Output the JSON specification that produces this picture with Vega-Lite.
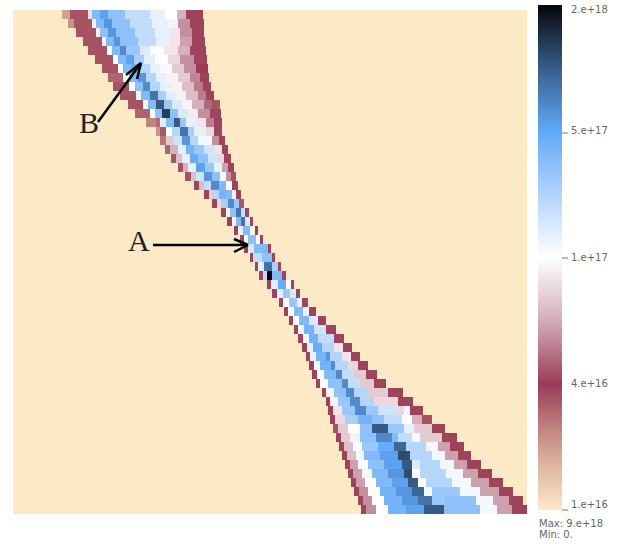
{"$schema":"https://vega.github.io/schema/vega-lite/v6.json","width":514,"height":504,"autosize":{"type":"none"},"padding":{"left":13,"top":10,"right":98,"bottom":30},"background":"white","config":{"view":{"fill":"#fce9c6","stroke":null}},"resolve":{"scale":{"y":"independent"}},"layer":[{"data":{"values":[
{"y":10,"a":62,"b":70,"v":12},{"y":10,"a":70,"b":88,"v":22},{"y":10,"a":88,"b":92,"v":45},{"y":10,"a":92,"b":100,"v":70},{"y":10,"a":100,"b":108,"v":76},{"y":10,"a":108,"b":125,"v":68},{"y":10,"a":125,"b":150,"v":60},{"y":10,"a":150,"b":165,"v":54},{"y":10,"a":165,"b":177,"v":50},{"y":10,"a":177,"b":186,"v":38},{"y":10,"a":186,"b":203,"v":24},
{"y":19,"a":68,"b":74,"v":14},{"y":19,"a":74,"b":92,"v":22},{"y":19,"a":92,"b":96,"v":48},{"y":19,"a":96,"b":104,"v":70},{"y":19,"a":104,"b":112,"v":78},{"y":19,"a":112,"b":130,"v":68},{"y":19,"a":130,"b":152,"v":60},{"y":19,"a":152,"b":168,"v":54},{"y":19,"a":168,"b":178,"v":48},{"y":19,"a":178,"b":190,"v":34},{"y":19,"a":190,"b":204,"v":24},
{"y":28,"a":76,"b":96,"v":22},{"y":28,"a":96,"b":100,"v":48},{"y":28,"a":100,"b":108,"v":68},{"y":28,"a":108,"b":116,"v":78},{"y":28,"a":116,"b":135,"v":68},{"y":28,"a":135,"b":155,"v":60},{"y":28,"a":155,"b":170,"v":54},{"y":28,"a":170,"b":180,"v":46},{"y":28,"a":180,"b":192,"v":34},{"y":28,"a":192,"b":204,"v":24},
{"y":37,"a":83,"b":102,"v":22},{"y":37,"a":102,"b":106,"v":48},{"y":37,"a":106,"b":114,"v":70},{"y":37,"a":114,"b":120,"v":78},{"y":37,"a":120,"b":138,"v":68},{"y":37,"a":138,"b":156,"v":60},{"y":37,"a":156,"b":170,"v":54},{"y":37,"a":170,"b":180,"v":46},{"y":37,"a":180,"b":192,"v":36},{"y":37,"a":192,"b":205,"v":24},
{"y":46,"a":88,"b":107,"v":22},{"y":46,"a":107,"b":112,"v":50},{"y":46,"a":112,"b":120,"v":70},{"y":46,"a":120,"b":126,"v":80},{"y":46,"a":126,"b":140,"v":66},{"y":46,"a":140,"b":150,"v":56},{"y":46,"a":150,"b":164,"v":51},{"y":46,"a":164,"b":178,"v":46},{"y":46,"a":178,"b":190,"v":38},{"y":46,"a":190,"b":206,"v":26},
{"y":55,"a":95,"b":113,"v":22},{"y":55,"a":113,"b":118,"v":50},{"y":55,"a":118,"b":126,"v":70},{"y":55,"a":126,"b":134,"v":76},{"y":55,"a":134,"b":144,"v":64},{"y":55,"a":144,"b":155,"v":55},{"y":55,"a":155,"b":168,"v":50},{"y":55,"a":168,"b":180,"v":44},{"y":55,"a":180,"b":194,"v":34},{"y":55,"a":194,"b":207,"v":26},
{"y":64,"a":102,"b":118,"v":22},{"y":64,"a":118,"b":123,"v":50},{"y":64,"a":123,"b":131,"v":70},{"y":64,"a":131,"b":140,"v":74},{"y":64,"a":140,"b":150,"v":62},{"y":64,"a":150,"b":160,"v":54},{"y":64,"a":160,"b":172,"v":49},{"y":64,"a":172,"b":184,"v":42},{"y":64,"a":184,"b":196,"v":34},{"y":64,"a":196,"b":208,"v":25},
{"y":73,"a":108,"b":123,"v":20},{"y":73,"a":123,"b":129,"v":50},{"y":73,"a":129,"b":138,"v":70},{"y":73,"a":138,"b":146,"v":78},{"y":73,"a":146,"b":156,"v":62},{"y":73,"a":156,"b":166,"v":54},{"y":73,"a":166,"b":178,"v":48},{"y":73,"a":178,"b":190,"v":42},{"y":73,"a":190,"b":200,"v":33},{"y":73,"a":200,"b":209,"v":24},
{"y":82,"a":113,"b":129,"v":22},{"y":82,"a":129,"b":135,"v":50},{"y":82,"a":135,"b":143,"v":68},{"y":82,"a":143,"b":150,"v":80},{"y":82,"a":150,"b":160,"v":62},{"y":82,"a":160,"b":170,"v":54},{"y":82,"a":170,"b":182,"v":48},{"y":82,"a":182,"b":194,"v":40},{"y":82,"a":194,"b":203,"v":32},{"y":82,"a":203,"b":211,"v":24},
{"y":91,"a":120,"b":136,"v":22},{"y":91,"a":136,"b":141,"v":52},{"y":91,"a":141,"b":150,"v":70},{"y":91,"a":150,"b":158,"v":84},{"y":91,"a":158,"b":166,"v":64},{"y":91,"a":166,"b":176,"v":55},{"y":91,"a":176,"b":186,"v":48},{"y":91,"a":186,"b":198,"v":40},{"y":91,"a":198,"b":206,"v":32},{"y":91,"a":206,"b":214,"v":24},
{"y":100,"a":128,"b":143,"v":22},{"y":100,"a":143,"b":148,"v":52},{"y":100,"a":148,"b":156,"v":70},{"y":100,"a":156,"b":164,"v":88},{"y":100,"a":164,"b":172,"v":66},{"y":100,"a":172,"b":182,"v":56},{"y":100,"a":182,"b":192,"v":48},{"y":100,"a":192,"b":204,"v":38},{"y":100,"a":204,"b":212,"v":30},{"y":100,"a":212,"b":220,"v":22},
{"y":109,"a":135,"b":150,"v":20},{"y":109,"a":150,"b":155,"v":50},{"y":109,"a":155,"b":162,"v":68},{"y":109,"a":162,"b":170,"v":92},{"y":109,"a":170,"b":178,"v":68},{"y":109,"a":178,"b":188,"v":56},{"y":109,"a":188,"b":198,"v":47},{"y":109,"a":198,"b":210,"v":34},{"y":109,"a":210,"b":221,"v":26},
{"y":118,"a":146,"b":156,"v":16},{"y":118,"a":156,"b":160,"v":30},{"y":118,"a":160,"b":166,"v":55},{"y":118,"a":166,"b":174,"v":70},{"y":118,"a":174,"b":180,"v":88},{"y":118,"a":180,"b":186,"v":66},{"y":118,"a":186,"b":196,"v":54},{"y":118,"a":196,"b":206,"v":46},{"y":118,"a":206,"b":214,"v":32},{"y":118,"a":214,"b":222,"v":24},
{"y":127,"a":156,"b":160,"v":14},{"y":127,"a":160,"b":166,"v":28},{"y":127,"a":166,"b":172,"v":50},{"y":127,"a":172,"b":180,"v":62},{"y":127,"a":180,"b":188,"v":84},{"y":127,"a":188,"b":194,"v":64},{"y":127,"a":194,"b":206,"v":54},{"y":127,"a":206,"b":214,"v":44},{"y":127,"a":214,"b":222,"v":26},
{"y":136,"a":160,"b":166,"v":18},{"y":136,"a":166,"b":174,"v":42},{"y":136,"a":174,"b":182,"v":58},{"y":136,"a":182,"b":190,"v":78},{"y":136,"a":190,"b":198,"v":62},{"y":136,"a":198,"b":212,"v":52},{"y":136,"a":212,"b":219,"v":34},{"y":136,"a":219,"b":225,"v":24},
{"y":145,"a":165,"b":170,"v":20},{"y":145,"a":170,"b":178,"v":38},{"y":145,"a":178,"b":186,"v":55},{"y":145,"a":186,"b":194,"v":72},{"y":145,"a":194,"b":204,"v":66},{"y":145,"a":204,"b":214,"v":58},{"y":145,"a":214,"b":222,"v":46},{"y":145,"a":222,"b":228,"v":24},
{"y":154,"a":171,"b":176,"v":22},{"y":154,"a":176,"b":182,"v":40},{"y":154,"a":182,"b":190,"v":54},{"y":154,"a":190,"b":198,"v":74},{"y":154,"a":198,"b":208,"v":68},{"y":154,"a":208,"b":218,"v":58},{"y":154,"a":218,"b":224,"v":44},{"y":154,"a":224,"b":231,"v":24},
{"y":163,"a":178,"b":183,"v":22},{"y":163,"a":183,"b":188,"v":38},{"y":163,"a":188,"b":196,"v":54},{"y":163,"a":196,"b":205,"v":76},{"y":163,"a":205,"b":214,"v":66},{"y":163,"a":214,"b":222,"v":54},{"y":163,"a":222,"b":228,"v":36},{"y":163,"a":228,"b":234,"v":24},
{"y":172,"a":185,"b":191,"v":22},{"y":172,"a":191,"b":196,"v":40},{"y":172,"a":196,"b":204,"v":58},{"y":172,"a":204,"b":212,"v":78},{"y":172,"a":212,"b":220,"v":68},{"y":172,"a":220,"b":226,"v":52},{"y":172,"a":226,"b":231,"v":34},{"y":172,"a":231,"b":236,"v":22},
{"y":181,"a":194,"b":199,"v":24},{"y":181,"a":199,"b":204,"v":40},{"y":181,"a":204,"b":211,"v":60},{"y":181,"a":211,"b":219,"v":80},{"y":181,"a":219,"b":226,"v":70},{"y":181,"a":226,"b":232,"v":50},{"y":181,"a":232,"b":238,"v":24},
{"y":190,"a":204,"b":209,"v":24},{"y":190,"a":209,"b":213,"v":42},{"y":190,"a":213,"b":219,"v":62},{"y":190,"a":219,"b":226,"v":72},{"y":190,"a":226,"b":232,"v":70},{"y":190,"a":232,"b":236,"v":48},{"y":190,"a":236,"b":241,"v":24},
{"y":199,"a":212,"b":217,"v":24},{"y":199,"a":217,"b":221,"v":44},{"y":199,"a":221,"b":228,"v":64},{"y":199,"a":228,"b":234,"v":80},{"y":199,"a":234,"b":239,"v":66},{"y":199,"a":239,"b":244,"v":28},
{"y":208,"a":221,"b":226,"v":24},{"y":208,"a":226,"b":230,"v":48},{"y":208,"a":230,"b":236,"v":68},{"y":208,"a":236,"b":241,"v":84},{"y":208,"a":241,"b":245,"v":60},{"y":208,"a":245,"b":249,"v":26},
{"y":217,"a":227,"b":232,"v":24},{"y":217,"a":232,"b":236,"v":52},{"y":217,"a":236,"b":241,"v":70},{"y":217,"a":241,"b":245,"v":84},{"y":217,"a":245,"b":250,"v":56},{"y":217,"a":250,"b":253,"v":26},
{"y":226,"a":234,"b":238,"v":24},{"y":226,"a":238,"b":243,"v":54},{"y":226,"a":243,"b":250,"v":70},{"y":226,"a":250,"b":255,"v":48},{"y":226,"a":255,"b":258,"v":24},
{"y":235,"a":240,"b":244,"v":24},{"y":235,"a":244,"b":248,"v":50},{"y":235,"a":248,"b":256,"v":68},{"y":235,"a":256,"b":260,"v":50},{"y":235,"a":260,"b":263,"v":24},
{"y":244,"a":244,"b":248,"v":24},{"y":244,"a":248,"b":254,"v":56},{"y":244,"a":254,"b":268,"v":70},{"y":244,"a":268,"b":271,"v":24},
{"y":253,"a":250,"b":253,"v":24},{"y":253,"a":253,"b":262,"v":60},{"y":253,"a":262,"b":272,"v":68},{"y":253,"a":272,"b":275,"v":26},
{"y":262,"a":255,"b":258,"v":26},{"y":262,"a":258,"b":264,"v":55},{"y":262,"a":264,"b":272,"v":84},{"y":262,"a":272,"b":278,"v":64},{"y":262,"a":278,"b":281,"v":26},
{"y":271,"a":259,"b":263,"v":26},{"y":271,"a":263,"b":267,"v":60},{"y":271,"a":267,"b":272,"v":100},{"y":271,"a":272,"b":282,"v":70},{"y":271,"a":282,"b":286,"v":26},
{"y":280,"a":267,"b":271,"v":26},{"y":280,"a":271,"b":278,"v":55},{"y":280,"a":278,"b":286,"v":74},{"y":280,"a":286,"b":291,"v":50},{"y":280,"a":291,"b":294,"v":24},
{"y":289,"a":272,"b":277,"v":26},{"y":289,"a":277,"b":283,"v":55},{"y":289,"a":283,"b":290,"v":66},{"y":289,"a":290,"b":296,"v":56},{"y":289,"a":296,"b":300,"v":26},
{"y":298,"a":279,"b":283,"v":24},{"y":298,"a":283,"b":289,"v":50},{"y":298,"a":289,"b":297,"v":66},{"y":298,"a":297,"b":302,"v":54},{"y":298,"a":302,"b":308,"v":26},
{"y":307,"a":284,"b":288,"v":24},{"y":307,"a":288,"b":294,"v":50},{"y":307,"a":294,"b":303,"v":70},{"y":307,"a":303,"b":309,"v":54},{"y":307,"a":309,"b":316,"v":26},
{"y":316,"a":289,"b":293,"v":24},{"y":316,"a":293,"b":299,"v":50},{"y":316,"a":299,"b":309,"v":70},{"y":316,"a":309,"b":318,"v":56},{"y":316,"a":318,"b":326,"v":26},
{"y":325,"a":294,"b":298,"v":24},{"y":325,"a":298,"b":304,"v":52},{"y":325,"a":304,"b":314,"v":72},{"y":325,"a":314,"b":326,"v":58},{"y":325,"a":326,"b":336,"v":26},
{"y":334,"a":298,"b":303,"v":24},{"y":334,"a":303,"b":309,"v":52},{"y":334,"a":309,"b":318,"v":72},{"y":334,"a":318,"b":334,"v":60},{"y":334,"a":334,"b":344,"v":26},
{"y":343,"a":302,"b":307,"v":24},{"y":343,"a":307,"b":313,"v":54},{"y":343,"a":313,"b":322,"v":74},{"y":343,"a":322,"b":334,"v":62},{"y":343,"a":334,"b":343,"v":46},{"y":343,"a":343,"b":352,"v":26},
{"y":352,"a":306,"b":310,"v":24},{"y":352,"a":310,"b":316,"v":54},{"y":352,"a":316,"b":326,"v":72},{"y":352,"a":326,"b":330,"v":78},{"y":352,"a":330,"b":342,"v":62},{"y":352,"a":342,"b":351,"v":46},{"y":352,"a":351,"b":360,"v":24},
{"y":361,"a":309,"b":314,"v":24},{"y":361,"a":314,"b":320,"v":52},{"y":361,"a":320,"b":331,"v":72},{"y":361,"a":331,"b":335,"v":80},{"y":361,"a":335,"b":348,"v":62},{"y":361,"a":348,"b":358,"v":44},{"y":361,"a":358,"b":368,"v":24},
{"y":370,"a":312,"b":317,"v":24},{"y":370,"a":317,"b":324,"v":50},{"y":370,"a":324,"b":336,"v":70},{"y":370,"a":336,"b":342,"v":80},{"y":370,"a":342,"b":354,"v":60},{"y":370,"a":354,"b":366,"v":42},{"y":370,"a":366,"b":377,"v":24},
{"y":379,"a":316,"b":320,"v":24},{"y":379,"a":320,"b":328,"v":50},{"y":379,"a":328,"b":342,"v":68},{"y":379,"a":342,"b":348,"v":80},{"y":379,"a":348,"b":360,"v":60},{"y":379,"a":360,"b":374,"v":42},{"y":379,"a":374,"b":386,"v":24},
{"y":388,"a":322,"b":326,"v":24},{"y":388,"a":326,"b":334,"v":48},{"y":388,"a":334,"b":346,"v":68},{"y":388,"a":346,"b":354,"v":80},{"y":388,"a":354,"b":368,"v":62},{"y":388,"a":368,"b":388,"v":42},{"y":388,"a":388,"b":403,"v":24},
{"y":397,"a":326,"b":330,"v":24},{"y":397,"a":330,"b":338,"v":48},{"y":397,"a":338,"b":350,"v":66},{"y":397,"a":350,"b":360,"v":80},{"y":397,"a":360,"b":374,"v":62},{"y":397,"a":374,"b":398,"v":44},{"y":397,"a":398,"b":413,"v":24},
{"y":406,"a":328,"b":333,"v":24},{"y":406,"a":333,"b":342,"v":46},{"y":406,"a":342,"b":355,"v":66},{"y":406,"a":355,"b":366,"v":80},{"y":406,"a":366,"b":378,"v":66},{"y":406,"a":378,"b":398,"v":58},{"y":406,"a":398,"b":404,"v":44},{"y":406,"a":404,"b":410,"v":52},{"y":406,"a":410,"b":423,"v":24},
{"y":415,"a":330,"b":335,"v":24},{"y":415,"a":335,"b":345,"v":44},{"y":415,"a":345,"b":358,"v":64},{"y":415,"a":358,"b":372,"v":72},{"y":415,"a":372,"b":384,"v":68},{"y":415,"a":384,"b":402,"v":60},{"y":415,"a":402,"b":412,"v":50},{"y":415,"a":412,"b":422,"v":38},{"y":415,"a":422,"b":432,"v":22},
{"y":424,"a":333,"b":338,"v":22},{"y":424,"a":338,"b":348,"v":42},{"y":424,"a":348,"b":360,"v":50},{"y":424,"a":360,"b":372,"v":68},{"y":424,"a":372,"b":388,"v":88},{"y":424,"a":388,"b":404,"v":66},{"y":424,"a":404,"b":414,"v":54},{"y":424,"a":414,"b":432,"v":42},{"y":424,"a":432,"b":445,"v":24},
{"y":433,"a":336,"b":341,"v":24},{"y":433,"a":341,"b":350,"v":42},{"y":433,"a":350,"b":360,"v":48},{"y":433,"a":360,"b":376,"v":68},{"y":433,"a":376,"b":392,"v":80},{"y":433,"a":392,"b":398,"v":70},{"y":433,"a":398,"b":412,"v":60},{"y":433,"a":412,"b":420,"v":52},{"y":433,"a":420,"b":442,"v":42},{"y":433,"a":442,"b":457,"v":24},
{"y":442,"a":339,"b":344,"v":24},{"y":442,"a":344,"b":353,"v":40},{"y":442,"a":353,"b":362,"v":50},{"y":442,"a":362,"b":378,"v":66},{"y":442,"a":378,"b":394,"v":74},{"y":442,"a":394,"b":406,"v":86},{"y":442,"a":406,"b":426,"v":62},{"y":442,"a":426,"b":438,"v":52},{"y":442,"a":438,"b":450,"v":36},{"y":442,"a":450,"b":464,"v":24},
{"y":451,"a":342,"b":347,"v":24},{"y":451,"a":347,"b":356,"v":40},{"y":451,"a":356,"b":364,"v":52},{"y":451,"a":364,"b":380,"v":70},{"y":451,"a":380,"b":398,"v":76},{"y":451,"a":398,"b":410,"v":90},{"y":451,"a":410,"b":432,"v":62},{"y":451,"a":432,"b":445,"v":52},{"y":451,"a":445,"b":458,"v":36},{"y":451,"a":458,"b":471,"v":24},
{"y":460,"a":345,"b":350,"v":24},{"y":460,"a":350,"b":358,"v":36},{"y":460,"a":358,"b":368,"v":50},{"y":460,"a":368,"b":384,"v":68},{"y":460,"a":384,"b":402,"v":76},{"y":460,"a":402,"b":412,"v":88},{"y":460,"a":412,"b":420,"v":56},{"y":460,"a":420,"b":440,"v":62},{"y":460,"a":440,"b":454,"v":52},{"y":460,"a":454,"b":467,"v":36},{"y":460,"a":467,"b":481,"v":24},
{"y":469,"a":348,"b":353,"v":24},{"y":469,"a":353,"b":362,"v":36},{"y":469,"a":362,"b":372,"v":52},{"y":469,"a":372,"b":388,"v":70},{"y":469,"a":388,"b":404,"v":78},{"y":469,"a":404,"b":412,"v":90},{"y":469,"a":412,"b":420,"v":50},{"y":469,"a":420,"b":446,"v":62},{"y":469,"a":446,"b":463,"v":52},{"y":469,"a":463,"b":478,"v":36},{"y":469,"a":478,"b":492,"v":24},
{"y":478,"a":351,"b":356,"v":24},{"y":478,"a":356,"b":365,"v":36},{"y":478,"a":365,"b":376,"v":50},{"y":478,"a":376,"b":392,"v":70},{"y":478,"a":392,"b":408,"v":76},{"y":478,"a":408,"b":418,"v":88},{"y":478,"a":418,"b":426,"v":50},{"y":478,"a":426,"b":452,"v":62},{"y":478,"a":452,"b":471,"v":52},{"y":478,"a":471,"b":489,"v":36},{"y":478,"a":489,"b":503,"v":24},
{"y":487,"a":354,"b":359,"v":24},{"y":487,"a":359,"b":368,"v":34},{"y":487,"a":368,"b":380,"v":50},{"y":487,"a":380,"b":396,"v":72},{"y":487,"a":396,"b":412,"v":78},{"y":487,"a":412,"b":424,"v":86},{"y":487,"a":424,"b":432,"v":52},{"y":487,"a":432,"b":460,"v":66},{"y":487,"a":460,"b":480,"v":52},{"y":487,"a":480,"b":499,"v":36},{"y":487,"a":499,"b":513,"v":24},
{"y":496,"a":358,"b":363,"v":24},{"y":496,"a":363,"b":372,"v":34},{"y":496,"a":372,"b":384,"v":50},{"y":496,"a":384,"b":402,"v":72},{"y":496,"a":402,"b":418,"v":78},{"y":496,"a":418,"b":432,"v":84},{"y":496,"a":432,"b":445,"v":66},{"y":496,"a":445,"b":476,"v":68},{"y":496,"a":476,"b":493,"v":52},{"y":496,"a":493,"b":509,"v":36},{"y":496,"a":509,"b":523,"v":24},
{"y":505,"a":361,"b":366,"v":24},{"y":505,"a":366,"b":376,"v":34},{"y":505,"a":376,"b":388,"v":50},{"y":505,"a":388,"b":406,"v":72},{"y":505,"a":406,"b":424,"v":76},{"y":505,"a":424,"b":444,"v":88},{"y":505,"a":444,"b":480,"v":68},{"y":505,"a":480,"b":497,"v":52},{"y":505,"a":497,"b":512,"v":36},{"y":505,"a":512,"b":527,"v":24}
]},"mark":{"type":"rect"},"encoding":{"x":{"field":"a","type":"quantitative","axis":null,"scale":{"domain":[13,527],"nice":false,"zero":false}},"x2":{"field":"b"},"y":{"field":"y","type":"ordinal","axis":null,"scale":{"paddingInner":0,"paddingOuter":0}},"color":{"field":"v","type":"quantitative","scale":{"interpolate":"rgb","domain":[0,12.5,25,37.5,50,61,75,87,100],"range":["#fce9c6","#cfa08f","#9b3b57","#d3aeb9","#ffffff","#bcd9fb","#60a8f8","#3a618e","#04060a"]},"legend":{"title":null,"type":"gradient","orient":"none","legendX":525,"legendY":-5,"gradientLength":505,"gradientThickness":24,"gradientStrokeWidth":0,"values":[0,25,50,75,100],"labelExpr":"datum.value==100?'2.e+18':datum.value==75?'5.e+17':datum.value==50?'1.e+17':datum.value==25?'4.e+16':'1.e+16'","labelFont":"DejaVu Sans","labelFontSize":10,"labelColor":"#666666","labelOffset":9,"labelOverlap":false}}}},{"data":{"values":[
{"x":153,"x2":248,"y":245,"y2":245},{"x":248,"x2":234,"y":245,"y2":239},{"x":248,"x2":234,"y":245,"y2":252},{"x":98,"x2":141,"y":122,"y2":63},{"x":141,"x2":126,"y":63,"y2":75},{"x":141,"x2":137,"y":63,"y2":79},{"x":562,"x2":568,"y":133,"y2":133,"k":1},{"x":562,"x2":568,"y":258,"y2":258,"k":1},{"x":562,"x2":568,"y":510,"y2":510,"k":1}
]},"mark":{"type":"rule","clip":false},"encoding":{"x":{"field":"x","type":"quantitative","axis":null},"x2":{"field":"x2"},"y":{"field":"y","type":"quantitative","axis":null,"scale":{"domain":[514,10],"nice":false,"zero":false}},"y2":{"field":"y2"},"stroke":{"condition":{"test":"datum.k==1","value":"#777777"},"value":"#000000"},"strokeWidth":{"condition":{"test":"datum.k==1","value":1},"value":2.5}}},{"data":{"values":[
{"x":128,"y":242,"t":"A"},{"x":79,"y":124,"t":"B"}
]},"mark":{"type":"text","font":"Liberation Serif","fontSize":30,"color":"#222222","align":"left","baseline":"middle"},"encoding":{"x":{"field":"x","type":"quantitative","axis":null},"y":{"field":"y","type":"quantitative","axis":null,"scale":{"domain":[514,10],"nice":false,"zero":false}},"text":{"field":"t"}}},{"data":{"values":[
{"x":539,"y":524,"t":"Max: 9.e+18"},{"x":539,"y":535,"t":"Min: 0."}
]},"mark":{"type":"text","font":"DejaVu Sans","fontSize":10,"color":"#666666","align":"left","baseline":"middle"},"encoding":{"x":{"field":"x","type":"quantitative","axis":null},"y":{"field":"y","type":"quantitative","axis":null,"scale":{"domain":[514,10],"nice":false,"zero":false}},"text":{"field":"t"}}}]}
